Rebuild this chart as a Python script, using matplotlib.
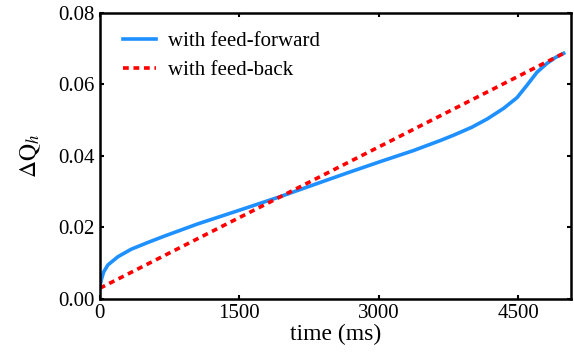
import matplotlib
matplotlib.use("Agg")
import matplotlib.pyplot as plt

# feed-forward curve
t_ff = [0, 15, 40, 86, 194, 337, 517, 697, 876, 1055, 1500, 1939, 2297,
        2657, 3016, 3374, 3662, 3806, 4000, 4165, 4344, 4488, 4596, 4703,
        4811, 4900, 4990]
dq_ff = [0.0035, 0.0053, 0.0075, 0.0095, 0.0118, 0.0139, 0.0158, 0.0176,
         0.0193, 0.0210, 0.0248, 0.0286, 0.0319, 0.0352, 0.0384, 0.0415,
         0.0443, 0.0458, 0.0480, 0.0503, 0.0533, 0.0563, 0.0598, 0.0634,
         0.0659, 0.0675, 0.0687]
# feed-back: straight line
t_fb = [0, 4990]
dq_fb = [0.0030, 0.0687]

xticks = [0, 1500, 3000, 4500]
yticks = [0.00, 0.02, 0.04, 0.06, 0.08]

plt.rcParams["font.family"] = ["Liberation Serif", "DejaVu Serif"]
plt.rcParams["mathtext.fontset"] = "stix"

fig, ax = plt.subplots(figsize=(5.74, 3.58), dpi=100)
fig.subplots_adjust(left=0.174, right=0.995, top=0.964, bottom=0.165)

ax.plot(t_ff, dq_ff, color="#1E90FF", lw=2.6, label="with feed-forward")
ax.plot(t_fb, dq_fb, color="red", lw=2.6, ls=(0, (1.6, 1.3)),
        label="with feed-back")

ax.set_xlim(0, 5070)
ax.set_ylim(0, 0.08)
ax.set_xticks(xticks)
ax.set_yticks(yticks)
ax.yaxis.set_major_formatter(matplotlib.ticker.FormatStrFormatter("%.2f"))
ax.tick_params(direction="in", length=3, width=1.5, labelsize=15,
               top=True, right=True)
for s in ax.spines.values():
    s.set_linewidth(1.8)

ax.set_xlabel("time (ms)", fontsize=17, labelpad=1)
ax.set_ylabel(r"$\Delta\mathrm{Q}_h$", fontsize=17, labelpad=11)
ax.legend(loc="upper left", bbox_to_anchor=(0.0, 1.014), frameon=False,
          fontsize=15, handlelength=1.6, handletextpad=0.55,
          labelspacing=0.45, borderaxespad=0.7)

fig.savefig("out.png", dpi=100)
